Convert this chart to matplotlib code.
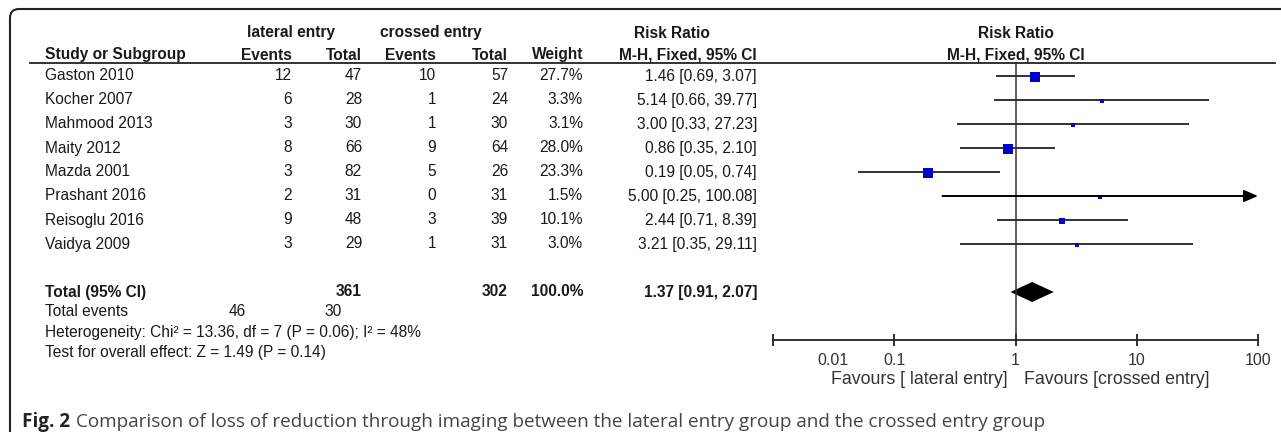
import matplotlib
matplotlib.use("Agg")
import matplotlib.pyplot as plt
from matplotlib.patches import FancyBboxPatch
import numpy as np

plt.rcParams['font.family'] = ['Liberation Sans', 'DejaVu Sans']

# data
studies = ['Gaston 2010', 'Kocher 2007', 'Mahmood 2013', 'Maity 2012',
           'Mazda 2001', 'Prashant 2016', 'Reisoglu 2016', 'Vaidya 2009']
lat_events = [12, 6, 3, 8, 3, 2, 9, 3]
lat_total = [47, 28, 30, 66, 82, 31, 48, 29]
cr_events = [10, 1, 1, 9, 5, 0, 3, 1]
cr_total = [57, 24, 30, 64, 26, 31, 39, 31]
weight = [27.7, 3.3, 3.1, 28.0, 23.3, 1.5, 10.1, 3.0]
rr = [1.46, 5.14, 3.00, 0.86, 0.19, 5.00, 2.44, 3.21]
rr_lo = [0.69, 0.66, 0.33, 0.35, 0.05, 0.25, 0.71, 0.35]
rr_hi = [3.07, 39.77, 27.23, 2.10, 0.74, 100.08, 8.39, 29.11]

tot_lat, tot_cr = 361, 302
ev_lat, ev_cr = 46, 30
tot_rr, tot_lo, tot_hi = 1.37, 0.91, 2.07
het_text = 'Heterogeneity: Chi² = 13.36, df = 7 (P = 0.06); I² = 48%'
test_text = 'Test for overall effect: Z = 1.49 (P = 0.14)'
xticks = [0.01, 0.1, 1, 10, 100]
xticklabels = ['0.01', '0.1', '1', '10', '100']
fav_left = 'Favours [ lateral entry]'
fav_right = 'Favours [crossed entry]'
caption = 'Comparison of loss of reduction through imaging between the lateral entry group and the crossed entry group'

W, H = 1281, 432
fig = plt.figure(figsize=(W / 100, H / 100), dpi=100)
fig.patch.set_facecolor('white')

# background axes in pixel units
ax0 = fig.add_axes([0, 0, 1, 1])
ax0.set_xlim(0, W)
ax0.set_ylim(H, 0)
ax0.axis('off')

# frame (open on the right and the bottom)
frame = FancyBboxPatch((10, 9), W + 40, H + 40, boxstyle='round,pad=0,rounding_size=9',
                       fill=False, edgecolor='#222222', lw=1.5, clip_on=False)
ax0.add_patch(frame)

tc = '#1a1a1a'
fs = 11.2
row0, dy = 76, 24
rows = [row0 + dy * i for i in range(len(studies))]

# column right edges
c_ev1, c_tot1, c_ev2, c_tot2, c_w, c_ci = 292, 362, 436, 508, 583, 757

# headers
ax0.text(291, 33, 'lateral entry', ha='center', va='center', fontsize=fs, weight='bold', color=tc)
ax0.text(431, 33, 'crossed entry', ha='center', va='center', fontsize=fs, weight='bold', color=tc)
ax0.text(672, 33, 'Risk Ratio', ha='center', va='center', fontsize=fs, weight='bold', color=tc)
ax0.text(1016, 33, 'Risk Ratio', ha='center', va='center', fontsize=fs, weight='bold', color=tc)
ax0.text(45, 55, 'Study or Subgroup', ha='left', va='center', fontsize=fs, weight='bold', color=tc)
for x, s in [(c_ev1, 'Events'), (c_tot1, 'Total'), (c_ev2, 'Events'), (c_tot2, 'Total'),
             (c_w, 'Weight'), (c_ci, 'M-H, Fixed, 95% CI')]:
    ax0.text(x, 55, s, ha='right', va='center', fontsize=fs, weight='bold', color=tc)
ax0.text(1016, 55, 'M-H, Fixed, 95% CI', ha='center', va='center', fontsize=fs, weight='bold', color=tc)
ax0.plot([30, 1275], [63, 63], color='#222222', lw=1.3)

# study rows
for i, y in enumerate(rows):
    ax0.text(45, y, studies[i], ha='left', va='center', fontsize=fs, color=tc)
    ax0.text(c_ev1, y, str(lat_events[i]), ha='right', va='center', fontsize=fs, color=tc)
    ax0.text(c_tot1, y, str(lat_total[i]), ha='right', va='center', fontsize=fs, color=tc)
    ax0.text(c_ev2, y, str(cr_events[i]), ha='right', va='center', fontsize=fs, color=tc)
    ax0.text(c_tot2, y, str(cr_total[i]), ha='right', va='center', fontsize=fs, color=tc)
    ax0.text(c_w, y, '%.1f%%' % weight[i], ha='right', va='center', fontsize=fs, color=tc)
    ax0.text(c_ci, y, '%.2f [%.2f, %.2f]' % (rr[i], rr_lo[i], rr_hi[i]),
             ha='right', va='center', fontsize=fs, color=tc)

# totals
yt = 292
ax0.text(45, yt, 'Total (95% CI)', ha='left', va='center', fontsize=fs, weight='bold', color=tc)
ax0.text(c_tot1, yt, str(tot_lat), ha='right', va='center', fontsize=fs, weight='bold', color=tc)
ax0.text(c_tot2, yt, str(tot_cr), ha='right', va='center', fontsize=fs, weight='bold', color=tc)
ax0.text(c_w, yt, '%.1f%%' % sum(weight), ha='right', va='center', fontsize=fs, weight='bold', color=tc)
ax0.text(c_ci, yt, '%.2f [%.2f, %.2f]' % (tot_rr, tot_lo, tot_hi),
         ha='right', va='center', fontsize=fs, weight='bold', color=tc)
ax0.text(45, 312, 'Total events', ha='left', va='center', fontsize=fs, color=tc)
ax0.text(246, 312, str(ev_lat), ha='right', va='center', fontsize=fs, color=tc)
ax0.text(342, 312, str(ev_cr), ha='right', va='center', fontsize=fs, color=tc)
ax0.text(45, 332, het_text, ha='left', va='center', fontsize=fs, color=tc)
ax0.text(45, 352, test_text, ha='left', va='center', fontsize=fs, color=tc)

# favours labels under the axis
ax0.text(1008, 380, fav_left, ha='right', va='center', fontsize=12.8, color='#333333')
ax0.text(1024, 380, fav_right, ha='left', va='center', fontsize=12.8, color='#333333')

# caption: bold label followed by the text
fig_lbl = ax0.text(22, 422, 'Fig. 2', ha='left', va='center', fontsize=13.6, weight='bold',
                   color='#222222', family='Open Sans')
fig.canvas.draw()
bb = fig_lbl.get_window_extent()
ax0.text(bb.x1 + 6, 422, caption, ha='left', va='center', fontsize=13.6,
         color='#444444', family='Open Sans')

# forest plot axes: y data in pixel units
x_left, x_right, y_top, y_bot = 773, 1258, 63, 340
ax = fig.add_axes([x_left / W, (H - y_bot) / H, (x_right - x_left) / W, (y_bot - y_top) / H])
ax.set_xscale('log')
ax.set_xlim(0.01, 100)
ax.set_ylim(y_bot, y_top)
ax.patch.set_alpha(0)
for s in ['top', 'left', 'right']:
    ax.spines[s].set_visible(False)
ax.spines['bottom'].set_color('#222222')
ax.spines['bottom'].set_linewidth(1.3)
ax.set_yticks([])
ax.set_xticks(xticks)
# first label sits to the right of its tick, as in RevMan output
ax.set_xticklabels([''] + xticklabels[1:])
ax.minorticks_off()
ax.tick_params(axis='x', direction='inout', length=9, width=1.3, color='#222222',
               labelsize=11.5, labelcolor='#333333', pad=5)
ax.annotate(xticklabels[0], xy=(xticks[0], 0), xycoords=('data', 'axes fraction'),
            xytext=(43, -14.5), textcoords='offset points', ha='center', va='center',
            fontsize=11.5, color='#333333')

ax.axvline(1, color='#333333', lw=1.1)

ci_col = '#333333'
for i, y in enumerate(rows):
    side = max(4, 1.9 * np.sqrt(weight[i]))
    if rr_hi[i] > 100:
        ax.annotate('', xy=(100, y), xytext=(rr_lo[i], y),
                    arrowprops=dict(arrowstyle='-|>,head_length=0.7,head_width=0.3',
                                    color='black', lw=1.4, shrinkA=0, shrinkB=0,
                                    mutation_scale=12), annotation_clip=False)
    else:
        ax.plot([rr_lo[i], rr_hi[i]], [y, y], color=ci_col, lw=1.4, solid_capstyle='butt')
    ax.plot([rr[i]], [y + 1], marker='s', color='#0000c8', markersize=side * 0.72,
            markeredgewidth=0, linestyle='none')

# diamond for total
ax.fill([tot_lo, tot_rr, tot_hi, tot_rr], [yt, yt - 10, yt, yt + 10], color='black', lw=0)

fig.savefig('out.png', dpi=100)
